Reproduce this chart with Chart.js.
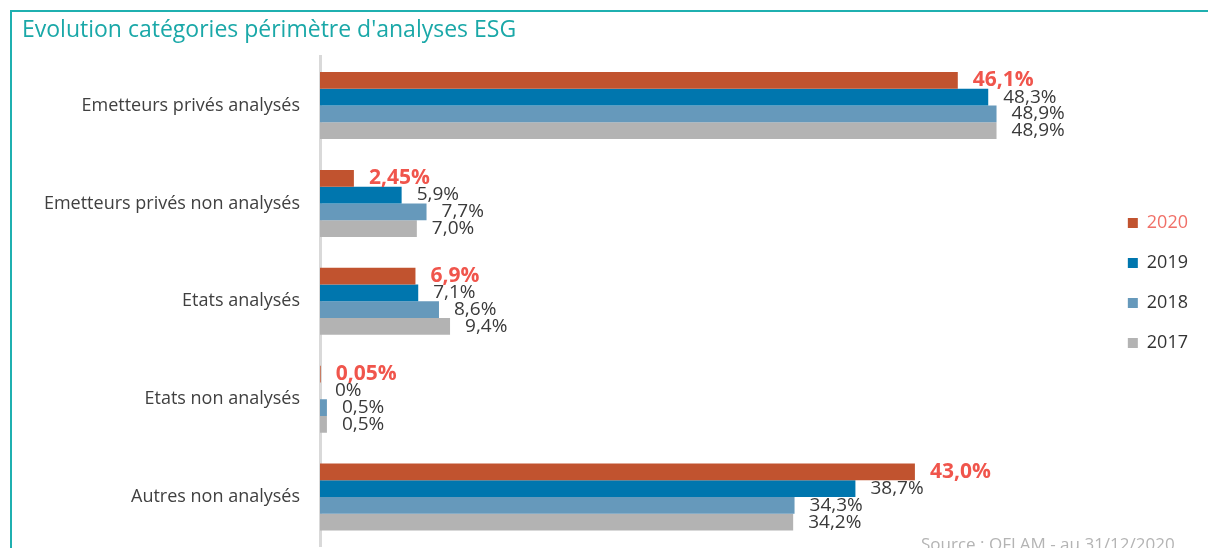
<!DOCTYPE html>
<html>
<head>
<meta charset="utf-8">
<script src="https://cdn.jsdelivr.net/npm/chart.js@4.4.1/dist/chart.umd.min.js"></script>
<style>
    html, body { margin: 0; padding: 0; width: 1208px; height: 548px; overflow: hidden; background: #fff; }
    #frame { position: absolute; left: 10px; top: 10px; width: 1300px; height: 700px;
             border-top: 2px solid #1fb0b0; border-left: 2px solid #1fb0b0; }
    #wrap { position: absolute; left: 0; top: 0; width: 1208px; height: 548px; }
    #source { position: absolute; left: 921px; top: 532px; font: 17px "Open Sans", sans-serif; color: #b4b4b4; white-space: nowrap; }
</style>
</head>
<body>
<div id="frame"></div>
<div id="wrap"><canvas id="esgChart" width="1208" height="548"></canvas></div>
<div id="source">Source : OFLAM - au 31/12/2020</div>
<script>
// ---------------- DATA ----------------
const categories = [
    "Emetteurs privés analysés",
    "Emetteurs privés non analysés",
    "Etats analysés",
    "Etats non analysés",
    "Autres non analysés"
];
const years = ["2020", "2019", "2018", "2017"];

const values2020 = [46.1, 2.45, 6.9, 0.05, 43.0];
const values2019 = [48.3, 5.9, 7.1, 0, 38.7];
const values2018 = [48.9, 7.7, 8.6, 0.5, 34.3];
const values2017 = [48.9, 7.0, 9.4, 0.5, 34.2];

const labels2020 = ["46,1%", "2,45%", "6,9%", "0,05%", "43,0%"];
const labels2019 = ["48,3%", "5,9%", "7,1%", "0%", "38,7%"];
const labels2018 = ["48,9%", "7,7%", "8,6%", "0,5%", "34,3%"];
const labels2017 = ["48,9%", "7,0%", "9,4%", "0,5%", "34,2%"];

const FONT = "'Open Sans', sans-serif";

// ---------------- VALUE LABELS PLUGIN ----------------
const valueLabels = {
    id: "valueLabels",
    afterDatasetsDraw(chart) {
        const ctx = chart.ctx;
        ctx.save();
        ctx.textBaseline = "middle";
        ctx.textAlign = "left";
        chart.data.datasets.forEach((ds, i) => {
            const meta = chart.getDatasetMeta(i);
            const highlight = i === 0;
            ctx.font = (highlight ? "bold 21px " : "19px ") + FONT;
            ctx.fillStyle = highlight ? "#f0554c" : "#3a3a3a";
            meta.data.forEach((bar, j) => {
                ctx.fillText(ds.valueLabels[j], bar.x + 15, bar.y);
            });
        });
        ctx.restore();
    }
};

// ===================== ESG BARS =====================
new Chart(document.getElementById("esgChart"), {
    type: "bar",
    data: {
        labels: categories,
        datasets: [
            { label: years[0], data: values2020, valueLabels: labels2020, backgroundColor: "#c1532f" },
            { label: years[1], data: values2019, valueLabels: labels2019, backgroundColor: "#0076ae" },
            { label: years[2], data: values2018, valueLabels: labels2018, backgroundColor: "#6699bb" },
            { label: years[3], data: values2017, valueLabels: labels2017, backgroundColor: "#b3b3b3" }
        ]
    },
    options: {
        indexAxis: "y",
        responsive: false,
        animation: false,
        layout: { padding: { left: 22, bottom: 2, right: 10 } },
        datasets: { bar: { categoryPercentage: 0.685, barPercentage: 1 } },
        plugins: {
            title: {
                display: true,
                text: "Evolution catégories périmètre d'analyses ESG",
                align: "start",
                color: "#1aa8a8",
                font: { family: FONT, size: 23, weight: "normal" },
                padding: { top: 17, bottom: 12 }
            },
            legend: {
                position: "right",
                // empty title only used to push the items down a little
                title: { display: true, text: " ", font: { size: 10 }, padding: 4 },
                labels: {
                    boxWidth: 10,
                    boxHeight: 10,
                    padding: 22,
                    font: { family: FONT, size: 18 },
                    color: "#333",
                    generateLabels(chart) {
                        return chart.data.datasets.map((ds, i) => ({
                            text: ds.label,
                            fillStyle: ds.backgroundColor,
                            strokeStyle: ds.backgroundColor,
                            lineWidth: 0,
                            fontColor: i === 0 ? "#f07068" : "#333",
                            datasetIndex: i
                        }));
                    }
                }
            },
            tooltip: { enabled: false }
        },
        scales: {
            x: { display: false, min: 0, max: 56.8 },
            y: {
                afterFit(scale) {
                    scale.width = 298;
                    scale.paddingTop = 0;
                    scale.paddingBottom = 0;
                },
                grid: { display: false, drawTicks: false },
                border: { display: true, color: "#d9d9d9", width: 3 },
                ticks: { padding: 20, color: "#404040", font: { family: FONT, size: 18 } }
            }
        }
    },
    plugins: [valueLabels]
});
</script>
</body>
</html>
